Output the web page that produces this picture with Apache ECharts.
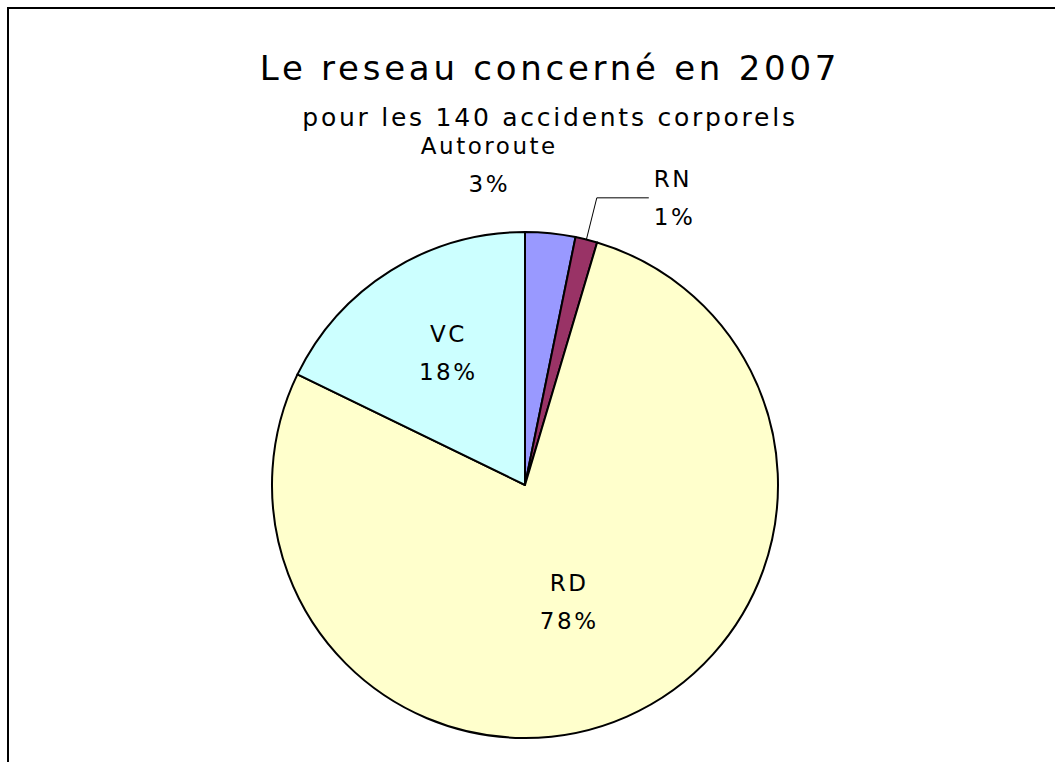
<!DOCTYPE html>
<html>
<head>
<meta charset="utf-8">
<script src="https://cdn.jsdelivr.net/npm/echarts@6/dist/echarts.min.js"></script>
<style>
  html, body { margin: 0; padding: 0; background: #fff; }
  #main { width: 1055px; height: 762px; }
  /* the original font is spaced wide */
  #main text { letter-spacing: 0.11em; }
</style>
</head>
<body>
<div id="main"></div>
<script>
// data (share of the 140 accidents, %)
const categories = ['Autoroute', 'RN', 'RD', 'VC']
const shares = [3.2, 1.4, 77.6, 17.8]
const sliceColors = ['#9999ff', '#993366', '#ffffcc', '#ccffff']

// where each label sits: outside or inside the slice
const labelPositions = ['outside', 'outside', 'inside', 'inside']
const labelAligns = ['center', 'left', 'center', 'center']
const showLeader = [false, true, false, false]
// small nudges so the labels land where the original has them
const labelNudges = [[-73, 0], [0, 0], [-8, -2], [-8, -22]]

const chart = echarts.init(document.getElementById('main'), null, { renderer: 'svg' })

const pieData = categories.map((name, i) => ({
  name,
  value: shares[i],
  itemStyle: { color: sliceColors[i] },
  label: { position: labelPositions[i] },
  labelLine: {
    show: showLeader[i],
    length: showLeader[i] ? 43 : 69,
    length2: showLeader[i] ? 52 : 0,
  },
}))

chart.setOption({
  animation: false,
  title: {
    text: 'Le reseau concerné en 2007',
    subtext: 'pour les 140 accidents corporels',
    left: 545,
    top: 46,
    textAlign: 'center',
    itemGap: 20,
    textStyle: {
      fontFamily: 'DejaVu Sans',
      fontSize: 34,
      fontWeight: 'normal',
      color: '#000',
    },
    subtextStyle: {
      fontFamily: 'DejaVu Sans',
      fontSize: 25,
      color: '#000',
    },
  },
  graphic: [
    {
      type: 'rect',
      shape: { x: 8, y: 8, width: 1100, height: 800 },
      style: { fill: 'none', stroke: '#000', lineWidth: 2 },
      silent: true,
    },
  ],
  series: [
    {
      name: 'Réseau',
      type: 'pie',
      center: [525, 485],
      radius: 253,
      startAngle: 90,
      clockwise: true,
      percentPrecision: 0,
      avoidLabelOverlap: false,
      emphasis: { disabled: true },
      itemStyle: {
        borderColor: '#000',
        borderWidth: 2,
      },
      label: {
        formatter: '{b}\n{d}%',
        fontFamily: 'DejaVu Sans',
        fontSize: 23,
        lineHeight: 38,
        color: '#000',
      },
      labelLine: {
        lineStyle: { color: '#000', width: 1 },
      },
      labelLayout: (params) => {
        const i = params.dataIndex
        return { dx: labelNudges[i][0], dy: labelNudges[i][1], align: labelAligns[i] }
      },
      data: pieData,
    },
  ],
})
</script>
</body>
</html>
